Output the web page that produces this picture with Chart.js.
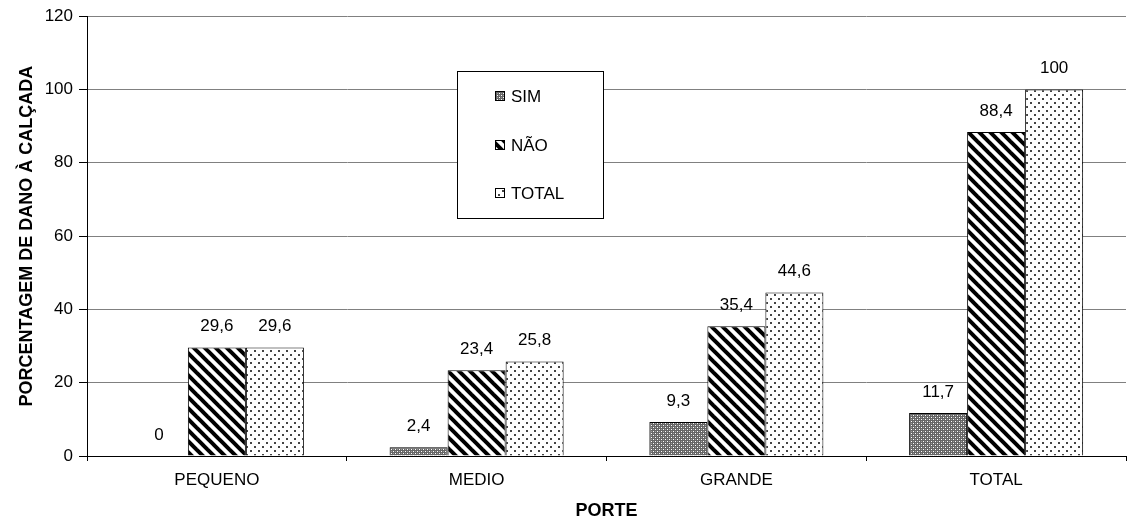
<!DOCTYPE html>
<html lang="pt">
<head>
    <meta charset="UTF-8">
    <title>Dano à calçada por porte</title>
    <style>
        html, body { margin: 0; padding: 0; background: #fff; }
        #wrap { width: 1128px; height: 526px; position: relative; }
    </style>
</head>
<body>
    <div id="wrap"><canvas id="chart"></canvas></div>
    <script src="https://cdn.jsdelivr.net/npm/chart.js"></script>
    <script>
        const categories = ['PEQUENO', 'MEDIO', 'GRANDE', 'TOTAL'];
        const seriesNames = ['SIM', 'NÃO', 'TOTAL'];
        const simValues = [0, 2.4, 9.3, 11.7];
        const naoValues = [29.6, 23.4, 35.4, 88.4];
        const totalValues = [29.6, 25.8, 44.6, 100];
        const yTicks = [0, 20, 40, 60, 80, 100, 120];

        const FONT = '"Liberation Sans", Arial, sans-serif';

        function makePattern(w, h, draw) {
            const c = document.createElement('canvas');
            c.width = w; c.height = h;
            const g = c.getContext('2d');
            draw(g, w, h);
            return g.createPattern(c, 'repeat');
        }

        // grey checker with light dots
        const simPattern = makePattern(4, 4, (g) => {
            g.fillStyle = '#666';
            g.fillRect(0, 0, 4, 4);
            g.fillStyle = '#a0a0a0';
            g.fillRect(1, 1, 1, 1); g.fillRect(3, 3, 1, 1);
            g.fillStyle = '#ffffff';
            g.fillRect(3, 1, 1, 1); g.fillRect(1, 3, 1, 1);
        });

        // thick black "\" stripes
        const naoPattern = makePattern(11, 11, (g, w, h) => {
            g.fillStyle = '#fff';
            g.fillRect(0, 0, w, h);
            g.strokeStyle = '#000';
            g.lineWidth = 4;
            for (let k = -1; k <= 1; k++) {
                g.beginPath();
                g.moveTo(k * w - 2, -2);
                g.lineTo(k * w + w + 2, h + 2);
                g.stroke();
            }
        });

        // white with small staggered dots
        const totalPattern = makePattern(8, 8, (g) => {
            g.fillStyle = '#fff';
            g.fillRect(0, 0, 8, 8);
            g.fillStyle = '#444';
            g.fillRect(2, 2, 2, 2);
            g.fillRect(6, 6, 2, 2);
        });

        const fills = [simPattern, naoPattern, totalPattern];

        function fmt(v) {
            return String(v).replace('.', ',');
        }

        // value labels above bars
        const valueLabels = {
            id: 'valueLabels',
            afterDatasetsDraw(chart) {
                const ctx = chart.ctx;
                ctx.save();
                ctx.font = '17px ' + FONT;
                ctx.fillStyle = '#000';
                ctx.textAlign = 'center';
                ctx.textBaseline = 'middle';
                chart.data.datasets.forEach((ds, i) => {
                    chart.getDatasetMeta(i).data.forEach((bar, j) => {
                        ctx.fillText(fmt(ds.data[j]), bar.x, bar.y - 21);
                    });
                });
                ctx.restore();
            }
        };

        // boxed legend inside the plot
        const boxLegend = {
            id: 'boxLegend',
            afterDraw(chart) {
                const ctx = chart.ctx;
                const x0 = 457, y0 = 71, w = 146, h = 147;
                ctx.save();
                ctx.fillStyle = '#fff';
                ctx.fillRect(x0, y0, w, h);
                ctx.strokeStyle = '#000';
                ctx.lineWidth = 1;
                ctx.strokeRect(x0 + 0.5, y0 + 0.5, w, h);
                ctx.font = '17px ' + FONT;
                ctx.textBaseline = 'middle';
                ctx.textAlign = 'left';
                const rows = [96, 145, 193];
                seriesNames.forEach((name, i) => {
                    const y = rows[i];
                    ctx.fillStyle = fills[i];
                    ctx.fillRect(495, y - 5, 10, 10);
                    ctx.strokeStyle = '#000';
                    ctx.strokeRect(495.5, y - 4.5, 9, 9);
                    ctx.fillStyle = '#000';
                    ctx.fillText(name, 511, y + 1);
                });
                ctx.restore();
            }
        };

        const datasets = [simValues, naoValues, totalValues].map((vals, i) => ({
            label: seriesNames[i],
            data: vals,
            backgroundColor: fills[i],
            borderColor: '#000',
            borderWidth: 1,
            barPercentage: 1.0,
            categoryPercentage: 0.67
        }));

        new Chart(document.getElementById('chart'), {
            type: 'bar',
            data: { labels: categories, datasets: datasets },
            plugins: [valueLabels, boxLegend],
            options: {
                responsive: true,
                maintainAspectRatio: false,
                animation: false,
                layout: { padding: { top: 16, right: 2, left: 12, bottom: 0 } },
                plugins: {
                    legend: { display: false },
                    tooltip: { enabled: false }
                },
                scales: {
                    x: {
                        grid: {
                            display: true,
                            drawOnChartArea: false,
                            drawTicks: true,
                            tickLength: 5,
                            tickColor: '#000',
                            offset: true
                        },
                        border: { color: '#000', width: 1 },
                        ticks: {
                            color: '#000',
                            font: { family: FONT, size: 17 },
                            padding: 9
                        },
                        title: {
                            display: true,
                            text: 'PORTE',
                            color: '#000',
                            font: { family: FONT, size: 18, weight: 'bold' },
                            padding: { top: 8 }
                        },
                        afterFit(scale) { scale.height = 70; }
                    },
                    y: {
                        min: 0,
                        max: 120,
                        afterBuildTicks(scale) {
                            scale.ticks = yTicks.map(v => ({ value: v }));
                        },
                        grid: {
                            color: '#808080',
                            tickColor: '#000',
                            tickLength: 8,
                            lineWidth: 1
                        },
                        border: { color: '#000', width: 1 },
                        ticks: {
                            color: '#000',
                            font: { family: FONT, size: 17 },
                            padding: 6
                        },
                        title: {
                            display: true,
                            text: 'PORCENTAGEM DE DANO À CALÇADA',
                            color: '#000',
                            font: { family: FONT, size: 18, weight: 'bold' },
                            padding: { bottom: 10 }
                        },
                        afterFit(scale) { scale.width = 75; }
                    }
                }
            }
        });
    </script>
</body>
</html>
